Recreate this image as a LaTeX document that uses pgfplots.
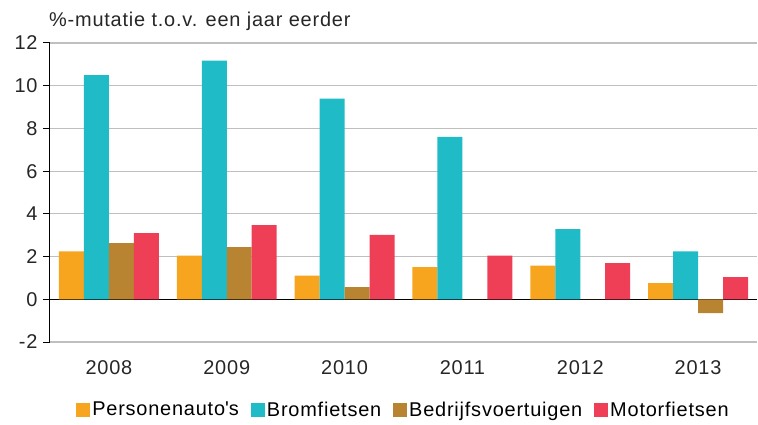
\documentclass[border=0pt]{standalone}
\usepackage{pgfplots}
\pgfplotsset{compat=1.18}
\usepackage{fontspec}
\setmainfont{Liberation Sans}[LetterSpace=4]
\definecolor{cOr}{HTML}{F7A51E}
\definecolor{cTe}{HTML}{1FBBC6}
\definecolor{cBr}{HTML}{B98431}
\definecolor{cRe}{HTML}{EE3F57}
\pgfplotstableread{
x pa bf bv mf
0 2.24 10.50 2.63 3.10
1 2.05 11.17 2.44 3.47
2 1.11 9.39 0.57 3.02
3 1.51 7.60 0 2.05
4 1.58 3.29 0 1.69
5 0.76 2.24 -0.65 1.04
}\data
\begin{document}
\begin{tikzpicture}
\begin{axis}[
  scale only axis, width=707bp, height=299bp,
  xmin=-0.5, xmax=5.5, ymin=-2, ymax=12,
  ytick={-2,0,...,12},
  xtick={0,...,5}, xticklabels={2008,2009,2010,2011,2012,2013},
  ybar=0pt, bar width=0.212,
  axis lines*=left,
  x axis line style={draw=none},
  y axis line style={black, line width=1bp},
  xtick style={draw=none},
  ytick style={black, line width=1bp},
  tick align=outside, major tick length=7bp,
  ymajorgrids, grid style={black!25, line width=1.2bp},
  extra y ticks={0}, extra y tick labels={},
  extra y tick style={grid style={black, line width=1bp}},
  /pgf/number format/assume math mode=true,
  tick label style={font=\fontsize{20}{24}\selectfont, text=black!85},
  yticklabel style={xshift=-2bp},
  xticklabel style={yshift=-8bp},
  clip=false,
  legend style={draw=none, fill=none, at={(0.5,-0.227)}, anchor=center,
    legend columns=4, font=\fontsize{20}{24}\selectfont,
    /tikz/every even column/.append style={column sep=10bp},
    legend cell align=left},
  legend image code/.code={\fill[#1] (-4bp,-7bp) rectangle (10bp,7bp);},
]
\addplot[fill=cOr, draw=none] table[x=x,y=pa]{\data};
\addplot[fill=cTe, draw=none] table[x=x,y=bf]{\data};
\addplot[fill=cBr, draw=none] table[x=x,y=bv]{\data};
\addplot[fill=cRe, draw=none] table[x=x,y=mf]{\data};
\legend{Personenauto\textquotesingle s, Bromfietsen, Bedrijfsvoertuigen, Motorfietsen}
\node[anchor=base west, inner sep=0pt, font=\fontsize{20}{24}\selectfont, text=black!85] at ([xshift=-1bp,yshift=16bp]rel axis cs:0,1) {\%-mutatie t.o.v. een jaar eerder};
\path ([xshift=-50bp,yshift=-82bp]rel axis cs:0,0) rectangle ([xshift=1bp,yshift=43bp]rel axis cs:1,1);
\end{axis}
\end{tikzpicture}
\end{document}
